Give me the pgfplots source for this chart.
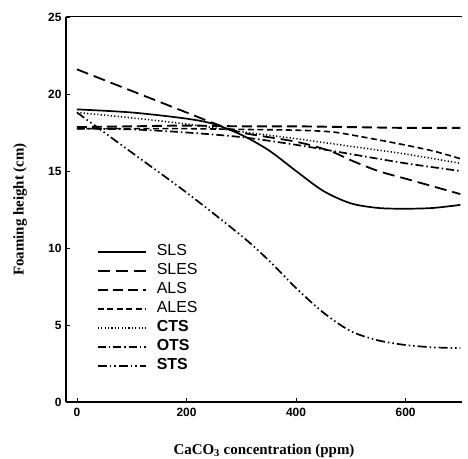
\documentclass[border=0pt]{standalone}
\usepackage{pgfplots}
\pgfplotsset{compat=1.18}
\usepackage{fontspec}
\setmainfont{Liberation Serif}
\newfontfamily\arial{Liberation Sans}
\begin{document}
\begin{tikzpicture}
\useasboundingbox (-66bp,-57bp) rectangle (402bp,402bp);
\begin{axis}[
  scale only axis, width=396bp, height=385bp,
  xmin=-20, xmax=703, ymin=0, ymax=25,
  axis x line*=bottom, axis y line*=left,
  axis line style={line width=1.6bp},
  xtick={0,200,400,600}, ytick={0,5,10,15,20,25},
  tick align=inside, major tick length=4bp,
  tick style={line width=0.8bp, black},
  /pgf/number format/assume math mode=true,
  tick label style={font=\arial\bfseries\fontsize{12}{14}\selectfont},
  xticklabel style={yshift=-3bp},
  yticklabel style={xshift=-1bp},
  xlabel={\bfseries CaCO$_{\mathbf{3}}$ concentration (ppm)},
  ylabel={\bfseries Foaming height (cm)},
  label style={font=\fontsize{15}{17}\selectfont},
  xlabel style={at={(axis description cs:0.5,0)}, anchor=center, yshift=-49bp},
  ylabel style={at={(axis description cs:0,0.5)}, anchor=center, yshift=46bp},
  clip=false,
  legend style={draw=none, fill=none, at={(rel axis cs:0.078,0.407)}, anchor=north west,
    inner sep=0pt, outer sep=0pt, row sep=6bp,
    font=\arial\fontsize{16}{18}\selectfont,
    nodes={inner sep=0pt, text height=10.5bp, text depth=2.5bp, font=\arial\fontsize{16}{18}\selectfont},
    /tikz/column 1/.style={column sep=10bp}},
  legend cell align=left,
  legend image code/.code={\draw[#1] (0bp,0bp) -- (48bp,0bp);},
]
\draw[line width=1bp] (rel axis cs:0,1) -- (rel axis cs:1,1);
% SLS
\addplot[black, line width=1.7bp, smooth] coordinates {
(0,19.0) (100,18.8) (200,18.4) (250,18.05) (300,17.35) (350,16.35) (400,15.0) (450,13.7) (500,12.9) (550,12.6) (600,12.55) (650,12.6) (700,12.8)};
\addlegendentry{SLS}
% SLES
\addplot[black, line width=1.8bp, dash pattern=on 12bp off 6bp, smooth] coordinates {
(0,21.6) (100,20.2) (200,18.8) (250,18.1) (300,17.5) (400,16.9) (462,16.3) (500,15.7) (550,15.0) (600,14.5) (650,14.0) (700,13.5)};
\addlegendentry{SLES}
% ALS
\addplot[black, line width=1.9bp, dash pattern=on 10bp off 5bp, smooth] coordinates {
(0,17.85) (100,17.9) (200,17.95) (300,17.9) (400,17.9) (500,17.85) (600,17.8) (700,17.8)};
\addlegendentry{ALS}
% ALES
\addplot[black, line width=1.6bp, dash pattern=on 6bp off 3.5bp, smooth] coordinates {
(0,17.75) (100,17.75) (200,17.75) (300,17.7) (400,17.65) (462,17.55) (500,17.35) (583,16.8) (650,16.3) (700,15.8)};
\addlegendentry{ALES}
% CTS
\addplot[black, line width=1.5bp, dash pattern=on 1.2bp off 2.2bp, smooth] coordinates {
(0,18.8) (100,18.45) (200,18.05) (300,17.55) (400,17.1) (500,16.6) (600,16.1) (700,15.5)};
\addlegendentry{\textbf{CTS}}
% OTS
\addplot[black, line width=1.7bp, dash pattern=on 8bp off 3bp on 1.5bp off 3bp, smooth] coordinates {
(0,17.75) (100,17.7) (200,17.5) (300,17.2) (400,16.7) (500,16.1) (600,15.5) (700,15.0)};
\addlegendentry{\textbf{OTS}}
% STS
\addplot[black, line width=1.7bp, dash pattern=on 9bp off 3bp on 1.5bp off 3bp on 1.5bp off 3bp, smooth] coordinates {
(0,18.8) (50,17.5) (100,16.2) (200,13.6) (300,10.8) (350,9.2) (400,7.4) (450,5.8) (500,4.6) (550,4.0) (600,3.7) (650,3.55) (700,3.5)};
\addlegendentry{\textbf{STS}}
\end{axis}
\end{tikzpicture}
\end{document}
